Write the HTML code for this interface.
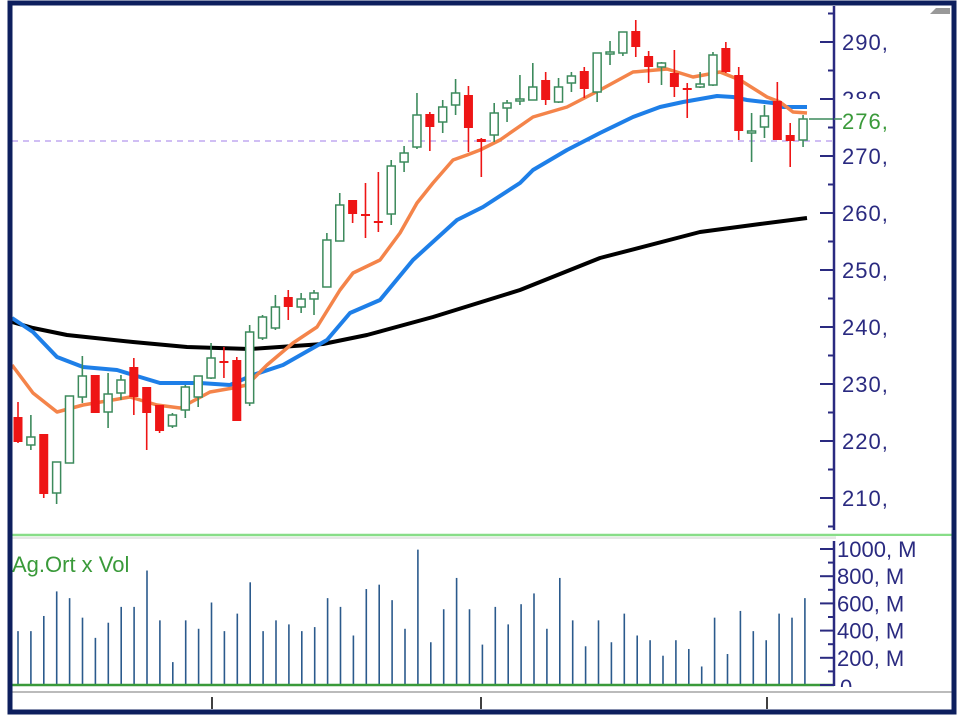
<!DOCTYPE html>
<html><head><meta charset="utf-8"><style>
html,body{margin:0;padding:0;background:#fff;}
svg{display:block;font-family:"Liberation Sans",sans-serif;}
</style></head><body>
<svg id="s" width="960" height="716" viewBox="0 0 960 716" xmlns="http://www.w3.org/2000/svg">
<rect x="0" y="0" width="960" height="716" fill="#fff"/>
<g id="g"></g>
<rect x="10" y="3" width="944" height="709" fill="none" stroke="#0d1f5e" stroke-width="5"/>
<polygon points="930,14 950,14 950,8 936,8" fill="#999"/>
</svg>
<script>
var NS="http://www.w3.org/2000/svg",g=document.getElementById('g');
function el(t,a,txt){var e=document.createElementNS(NS,t);for(var k in a)e.setAttribute(k,a[k]);if(txt!=null)e.textContent=txt;g.appendChild(e);return e;}
el('line',{x1:12,y1:141,x2:832,y2:141,stroke:'#c0a8f0','stroke-width':1.5,'stroke-dasharray':'6,5'});
function pl(pts,c,w){el('polyline',{points:pts.map(p=>p.join(',')).join(' '),fill:'none',stroke:c,'stroke-width':w,'stroke-linejoin':'round'});}
pl([[12,322],[33,328],[67,335],[133,342],[187,347],[250,349],[323,344],[367,335],[433,317],[520,290],[600,258],[700,232],[760,224],[807,218]],'#000',4);
pl([[12,318],[33,332],[57,357],[83,367],[117,370],[140,377],[160,383],[200,383],[230,385],[253,375],[283,365],[327,340],[350,313],[380,300],[413,260],[457,220],[483,207],[520,183],[533,170],[567,150],[600,133],[633,117],[660,107],[683,102],[717,96],[733,97],[747,100],[773,103],[783,107],[807,107]],'#1e7fe8',4);
pl([[12,365],[33,393],[57,412],[83,405],[130,397],[157,405],[180,408],[210,392],[233,388],[247,385],[267,365],[293,343],[317,327],[340,290],[353,273],[380,260],[400,233],[417,203],[433,183],[453,160],[467,155],[480,150],[500,140],[533,117],[567,107],[600,90],[633,72],[667,69],[693,77],[720,72],[740,80],[767,97],[780,102],[793,112],[807,113]],'#f4844a',3.5);
var C=[[417,442,402,443,1],[437,445,415,450,0],[434,494,434,498,1],[462,493,462,504,0],[396,463,396,463,0],[376,397,356,403,0],[375,413,375,413,1],[394,412,373,428,0],[380,393,375,400,0],[367,397,358,415,1],[387,413,387,450,1],[405,431,405,433,1],[415,426,413,428,0],[387,410,385,418,0],[376,397,376,407,0],[358,378,343,379,0],[361,363,347,378,1],[360,421,357,421,1],[332,403,325,406,0],[317,338,315,340,0],[307,328,295,330,0],[297,307,290,320,1],[299,307,293,313,0],[293,299,290,315,0],[240,287,233,287,0],[205,241,193,241,0],[200,214,200,223,1],[214,216,183,238,1],[221,223,172,232,1],[166,214,160,225,0],[153,162,146,172,0],[115,147,93,149,0],[114,127,112,151,1],[107,122,100,133,0],[93,105,79,115,0],[95,128,86,152,1],[139,142,138,177,1],[113,135,103,142,0],[103,108,100,122,0],[99,101,75,105,0],[87,100,63,100,0],[80,100,72,105,1],[87,102,78,103,0],[76,83,72,92,0],[71,89,67,98,1],[53,92,53,102,0],[52,54,41,65,0],[32,53,32,56,0],[31,47,20,57,1],[56,67,51,83,1],[63,67,62,85,0],[73,87,50,97,1],[88,90,83,118,1],[84,87,72,88,0],[55,85,52,86,0],[48,72,42,73,1],[75,131,67,140,1],[131,133,113,162,0],[116,127,105,138,0],[101,140,82,140,1],[135,141,123,167,1],[119,140,115,147,0]];
C.forEach(function(c,i){var x=18+12.87*i,col=c[4]?'#ee1515':'#3c8a5c';
el('line',{x1:x,y1:c[2],x2:x,y2:c[3],stroke:col,'stroke-width':1.6});
var h=Math.max(c[1]-c[0],2);
if(c[4])el('rect',{x:x-4.5,y:c[0],width:9,height:h,fill:col});
else el('rect',{x:x-4,y:c[0],width:8,height:h,fill:'#fff',stroke:col,'stroke-width':1.5});});
el('line',{x1:809,y1:119,x2:833,y2:119,stroke:'#3c8a5c','stroke-width':1.5});
el('line',{x1:834,y1:6,x2:834,y2:530,stroke:'#2a2a80','stroke-width':2.5});
for(var v=295;v>=205;v-=5){var y=42+(290-v)*5.7;var maj=(v%10==0);el('line',{x1:maj?820:828,y1:y,x2:834,y2:y,stroke:'#2a2a80','stroke-width':2});
if(maj){el('text',{x:842,y:y+8,'font-size':22,fill:'#2a2a80','letter-spacing':'1'},v+',');}}
el('rect',{x:838,y:99,width:60,height:34,fill:'#fff'});
el('text',{x:842,y:129,'font-size':22,fill:'#3a9a3a','letter-spacing':'1'},'276,');
el('line',{x1:834,y1:119,x2:842,y2:119,stroke:'#3c8a5c','stroke-width':1.5});
el('line',{x1:12,y1:535,x2:952,y2:535,stroke:'#88dd88','stroke-width':2.5});
el('line',{x1:12,y1:538,x2:952,y2:538,stroke:'#cccccc','stroke-width':1});
var V=[330,330,285,212,232,290,350,305,258,258,150,298,422,298,323,245,330,278,185,330,298,310,330,318,232,258,343,205,192,238,323,88,363,265,172,265,370,258,310,250,218,323,172,298,375,298,363,278,343,357,403,357,383,435,290,398,270,330,357,278,290,232];
V.forEach(function(t,i){var x=18+12.9*i;el('line',{x1:x,y1:685-(490-t)/2.97,x2:x,y2:685,stroke:'#2b5a8c','stroke-width':1.6});});
el('line',{x1:12,y1:685,x2:834,y2:685,stroke:'#3a9a3a','stroke-width':2.5});
el('line',{x1:834,y1:541,x2:834,y2:686,stroke:'#2a2a80','stroke-width':2.5});
var vl=['1000, M','800, M','600, M','400, M','200, M'];
for(var k=0;k<=10;k++){var y=685-k*13.6;var maj=k%2==0;el('line',{x1:maj?820:828,y1:y,x2:834,y2:y,stroke:'#2a2a80','stroke-width':2});}
vl.forEach(function(s,j){var y=685-(5-j)*27.2;el('text',{x:837,y:y+8,'font-size':22,fill:'#2a2a80'},s);});
el('rect',{x:836,y:536,width:115,height:5,fill:'#fff'});
el('text',{x:840,y:695,'font-size':22,fill:'#2a2a80'},'0');
el('rect',{x:836,y:687,width:115,height:20,fill:'#fff'});
el('text',{x:12,y:572,'font-size':22,fill:'#3a9a3a'},'Ag.Ort x Vol');
el('line',{x1:12,y1:692,x2:952,y2:692,stroke:'#bbbbbb','stroke-width':2});
[212,481,767].forEach(function(x){el('line',{x1:x,y1:697,x2:x,y2:709,stroke:'#000','stroke-width':1.5});});
</script>
</body></html>
